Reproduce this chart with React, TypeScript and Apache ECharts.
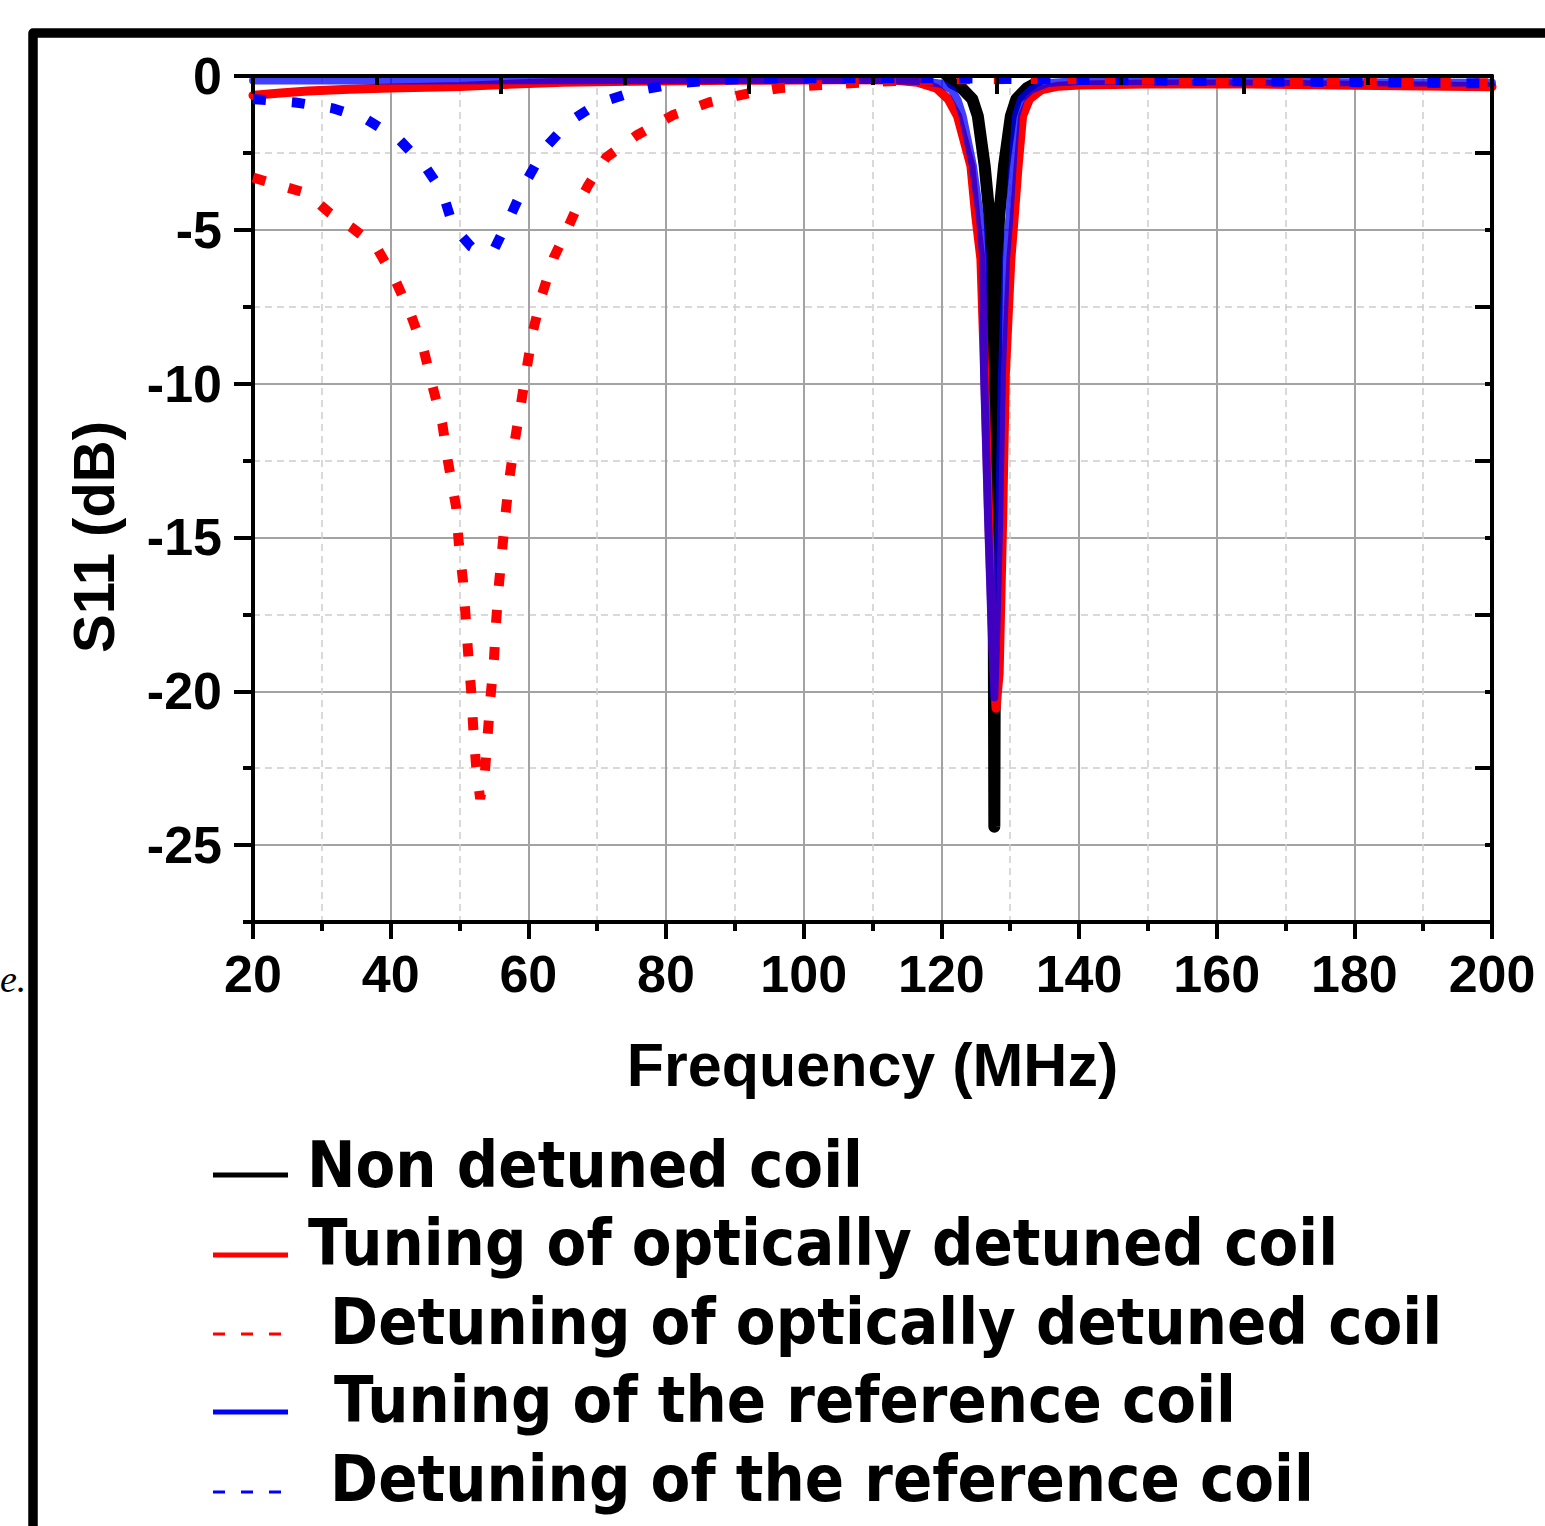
import React, { useEffect, useRef } from "react";
import * as echarts from "echarts";

// ---------- data ----------
const seriesNames = [
  "Non detuned coil",
  "Tuning of optically detuned coil",
  "Detuning of optically detuned coil",
  "Tuning of the reference coil",
  "Detuning of the reference coil",
];

const yTickValues = [-25, -20, -15, -10, -5, 0];

// Non detuned coil (black) – above the plotted range except around the resonance
const nonDetunedFreq = [20, 60, 100, 119, 120.6, 121.6, 123.0, 124.5, 125.3, 126.3, 127.0, 127.3, 127.5, 127.62, 127.7, 127.78, 127.9, 128.1, 128.4, 129.1, 130.1, 130.9, 132.4, 133.8, 134.8, 136.5, 160, 200];
const nonDetunedS11 = [0.5, 0.5, 0.5, 0.5, 0.1, -0.23, -0.4, -0.75, -1.3, -2.93, -4.55, -5.95, -10, -18, -24.4, -18, -10, -5.95, -4.55, -2.93, -1.3, -0.75, -0.4, -0.23, 0.1, 0.5, 0.5, 0.5];

// Tuning of optically detuned coil (red solid)
const tuningOptFreq = [20, 24, 28, 34, 40, 50, 58, 65, 75, 90, 105, 113, 116.5, 119.3, 121.0, 122.35, 124.3, 125.0, 125.75, 126.3, 126.9, 127.5, 127.95, 128.4, 128.9, 129.3, 130.1, 130.6, 131.15, 131.8, 132.8, 134.5, 137, 140, 150, 165, 180, 200];
const tuningOptS11 = [-0.63, -0.55, -0.49, -0.43, -0.39, -0.34, -0.26, -0.2, -0.17, -0.14, -0.12, -0.13, -0.2, -0.4, -0.75, -1.3, -2.93, -4.55, -5.95, -9.7, -14.5, -18.5, -20.55, -19.4, -14.5, -9.7, -5.95, -4.55, -2.93, -1.3, -0.75, -0.45, -0.33, -0.29, -0.26, -0.26, -0.3, -0.35];

// Detuning of optically detuned coil (red dotted)
const detuningOptFreq = [20, 23.8, 27.7, 31.2, 34.5, 37.9, 40.6, 43, 44.8, 46.1, 47.5, 48.3, 49.5, 49.9, 50.5, 50.9, 51.3, 51.7, 52, 52.4, 53.0, 53.7, 54.1, 54.5, 55, 55.3, 55.7, 56.2, 56.7, 57.3, 58, 58.9, 59.8, 60.7, 62, 63.7, 65.5, 67.4, 68.7, 71.3, 75.8, 81, 86.4, 92, 96.7, 102.6, 108.5, 115, 122, 130, 140, 160, 180, 200];
const detuningOptS11 = [-3.3, -3.55, -3.8, -4.46, -4.95, -5.55, -6.6, -7.8, -8.9, -10.1, -11.3, -12.5, -14.0, -15.2, -16.4, -17.6, -18.9, -20.0, -21.2, -22.4, -23.5, -22.6, -21.4, -20.2, -19.0, -17.8, -16.6, -15.4, -14.2, -13.0, -11.9, -10.7, -9.45, -8.26, -7.1, -5.9, -5.06, -4.1, -3.55, -2.65, -1.92, -1.27, -0.85, -0.56, -0.39, -0.29, -0.21, -0.15, -0.11, -0.1, -0.1, -0.14, -0.19, -0.24];

// Tuning of the reference coil (blue solid)
const tuningRefFreq = [20, 40, 60, 80, 100, 112, 117, 120, 121.5, 122.4, 123.1, 124.6, 125.6, 126.1, 126.2, 126.8, 127.3, 127.7, 128.0, 128.4, 128.8, 129.4, 129.9, 130.35, 130.85, 131.6, 133.0, 135.5, 140, 150, 165, 180, 200];
const tuningRefS11 = [-0.15, -0.15, -0.14, -0.13, -0.12, -0.13, -0.16, -0.25, -0.45, -0.8, -1.3, -2.93, -4.55, -5.95, -9.7, -14.5, -18, -20.2, -18, -14.5, -9.7, -5.95, -4.55, -2.93, -1.3, -0.75, -0.45, -0.23, -0.16, -0.16, -0.18, -0.2, -0.22];

// Detuning of the reference coil (blue dotted)
const detuningRefFreq = [20, 26.2, 31.6, 36.5, 41.3, 45.2, 47.5, 49.1, 51.7, 53.5, 55.1, 57.5, 59.8, 62.4, 65.9, 70.1, 75.9, 81.5, 87.4, 93, 100, 120, 140, 160, 180, 200];
const detuningRefS11 = [-0.75, -0.86, -1.05, -1.41, -2.08, -3.0, -3.76, -4.9, -5.55, -5.75, -5.6, -4.5, -3.38, -2.35, -1.49, -0.89, -0.47, -0.24, -0.13, -0.08, -0.07, -0.07, -0.12, -0.17, -0.2, -0.24];

// ---------- helpers ----------
const zip = (xs: number[], ys: number[]) => xs.map((x, i) => [x, ys[i]]);

const SANS = "'Liberation Sans', Arial, sans-serif";
const LEGEND_FONT = "'DejaVu Sans', Verdana, sans-serif";
const BLACK_LINE = { color: "#000", width: 4 };
const MAJOR_GRID = { color: "#a3a3a3", width: 2, type: "solid" as const };
const MINOR_GRID = { color: "#cdcdcd", width: 1.5, type: [7, 5] };

const seriesColors = ["#000000", "#ff0000", "#ff0000", "#0000ff", "#0000ff"];
const legendDashed = [false, false, true, false, true];

export default function App() {
  const ref = useRef<HTMLDivElement | null>(null);

  useEffect(() => {
    if (!ref.current) return;
    const chart = echarts.init(ref.current, undefined, { renderer: "svg" });

    // legend drawn as graphic rows (sample line + label)
    const legendRowIconY = [1175, 1255, 1334, 1412, 1492];
    const legendRowTextY = [1165, 1243, 1322, 1400, 1479];
    const legendRowTextX = [307, 308, 330, 334, 330];
    const legendGraphics: any[] = [];
    seriesNames.forEach((name, i) => {
      const dashed = legendDashed[i];
      legendGraphics.push({
        type: "line",
        silent: true,
        shape: { x1: 213, y1: legendRowIconY[i], x2: dashed ? 281 : 288, y2: legendRowIconY[i] },
        style: {
          stroke: seriesColors[i],
          lineWidth: dashed ? 3 : 5,
          lineDash: dashed ? [12, 16] : null,
        },
      });
      legendGraphics.push({
        type: "text",
        x: legendRowTextX[i],
        y: legendRowTextY[i],
        scaleY: 1.1,
        style: {
          text: name,
          fontFamily: LEGEND_FONT,
          fontWeight: "bold",
          fontSize: 58,
          fill: "#000",
          align: "left",
          verticalAlign: "middle",
        },
      });
    });

    const option: any = {
      animation: false,
      backgroundColor: "#ffffff",
      grid: { left: 253, top: 76, right: 53, bottom: 604, containLabel: false },
      xAxis: [
        {
          type: "value",
          position: "bottom",
          min: 20,
          max: 200,
          interval: 20,
          name: "Frequency (MHz)",
          nameLocation: "middle",
          nameGap: 112,
          nameTextStyle: { fontFamily: SANS, fontWeight: "bold", fontSize: 61, color: "#000" },
          axisLine: { show: true, onZero: false, lineStyle: BLACK_LINE },
          axisTick: { show: true, inside: false, length: 17, lineStyle: BLACK_LINE },
          minorTick: { show: true, splitNumber: 2, length: 9, lineStyle: BLACK_LINE },
          axisLabel: { margin: 26, fontFamily: SANS, fontWeight: "bold", fontSize: 52, color: "#000" },
          splitLine: { show: true, lineStyle: MAJOR_GRID },
          minorSplitLine: { show: true, lineStyle: MINOR_GRID },
        },
        {
          type: "value",
          position: "top",
          min: 0,
          max: 10,
          interval: 2,
          z: 10,
          axisLine: { show: true, onZero: false, lineStyle: BLACK_LINE },
          axisTick: { show: true, inside: true, length: 18, lineStyle: BLACK_LINE },
          minorTick: { show: true, splitNumber: 2, length: 9, lineStyle: BLACK_LINE },
          axisLabel: { show: false },
          splitLine: { show: false },
        },
      ],
      yAxis: [
        {
          type: "value",
          position: "left",
          min: -27.5,
          max: 0,
          interval: 2.5,
          axisLine: { show: true, onZero: false, lineStyle: BLACK_LINE },
          axisTick: { show: true, inside: false, length: 19, customValues: yTickValues, lineStyle: BLACK_LINE },
          axisLabel: {
            customValues: yTickValues,
            margin: 31,
            fontFamily: SANS,
            fontWeight: "bold",
            fontSize: 52,
            color: "#000",
          },
          splitLine: { show: false },
        },
        {
          type: "value",
          position: "left",
          min: 0,
          max: 27.5,
          interval: 5,
          axisLine: { show: false, onZero: false },
          axisTick: { show: true, inside: false, length: 10, lineStyle: BLACK_LINE },
          axisLabel: { show: false },
          splitLine: { show: true, lineStyle: MINOR_GRID },
        },
        {
          type: "value",
          position: "right",
          inverse: true,
          min: 0,
          max: 27.5,
          interval: 5,
          axisLine: { show: false, onZero: false },
          axisTick: { show: true, inside: true, length: 7, lineStyle: BLACK_LINE },
          axisLabel: { show: false },
          splitLine: { show: true, lineStyle: MAJOR_GRID },
        },
        {
          type: "value",
          position: "right",
          min: 0,
          max: 27.5,
          interval: 5,
          z: 10,
          axisLine: { show: true, onZero: false, lineStyle: BLACK_LINE },
          axisTick: { show: true, inside: true, length: 17, lineStyle: BLACK_LINE },
          axisLabel: { show: false },
          splitLine: { show: false },
        },
      ],
      series: [
        {
          name: seriesNames[0],
          type: "line",
          xAxisIndex: 0,
          yAxisIndex: 0,
          data: zip(nonDetunedFreq, nonDetunedS11),
          symbol: "none",
          color: seriesColors[0],
          z: 2,
          lineStyle: { color: seriesColors[0], width: 12, cap: "round", join: "round" },
        },
        {
          name: seriesNames[1],
          type: "line",
          xAxisIndex: 0,
          yAxisIndex: 0,
          data: zip(tuningOptFreq, tuningOptS11),
          symbol: "none",
          color: seriesColors[1],
          z: 3,
          lineStyle: { color: seriesColors[1], width: 9, cap: "round", join: "round" },
        },
        {
          name: seriesNames[2],
          type: "line",
          xAxisIndex: 0,
          yAxisIndex: 0,
          data: zip(detuningOptFreq, detuningOptS11),
          symbol: "none",
          color: seriesColors[2],
          z: 5,
          lineStyle: { color: seriesColors[2], width: 10, type: [13, 24], cap: "butt", join: "miter" },
        },
        {
          name: seriesNames[3],
          type: "line",
          xAxisIndex: 0,
          yAxisIndex: 0,
          data: zip(tuningRefFreq, tuningRefS11),
          symbol: "none",
          color: seriesColors[3],
          z: 4,
          lineStyle: { color: seriesColors[3], width: 8, opacity: 0.75, cap: "round", join: "round" },
        },
        {
          name: seriesNames[4],
          type: "line",
          xAxisIndex: 0,
          yAxisIndex: 0,
          data: zip(detuningRefFreq, detuningRefS11),
          symbol: "none",
          color: seriesColors[4],
          z: 6,
          lineStyle: { color: seriesColors[4], width: 10, type: [13, 26], cap: "butt", join: "miter" },
        },
      ],
      graphic: [
        // keeps the off-range part of the curves from showing above the top axis
        {
          type: "rect",
          z: 50,
          silent: true,
          shape: { x: 240, y: 40, width: 1270, height: 34 },
          style: { fill: "#ffffff" },
        },
        {
          type: "polyline",
          z: 100,
          silent: true,
          shape: { points: [[33, 1540], [33, 33], [1560, 33]] },
          style: { stroke: "#000", lineWidth: 9.5, fill: "none", lineJoin: "round" },
        },
        {
          type: "text",
          x: 93,
          y: 537,
          rotation: Math.PI / 2,
          style: {
            text: "S11 (dB)",
            fontFamily: SANS,
            fontWeight: "bold",
            fontSize: 58,
            fill: "#000",
            align: "center",
            verticalAlign: "middle",
          },
        },
        {
          type: "text",
          x: 0,
          y: 979,
          style: {
            text: "e.",
            fontFamily: "'Liberation Serif', serif",
            fontStyle: "italic",
            fontSize: 38,
            fill: "#000",
            align: "left",
            verticalAlign: "middle",
          },
        },
        ...legendGraphics,
      ],
    };

    chart.setOption(option);
    return () => chart.dispose();
  }, []);

  return <div ref={ref} style={{ position: "absolute", left: 0, top: 0, width: 1545, height: 1526 }} />;
}
